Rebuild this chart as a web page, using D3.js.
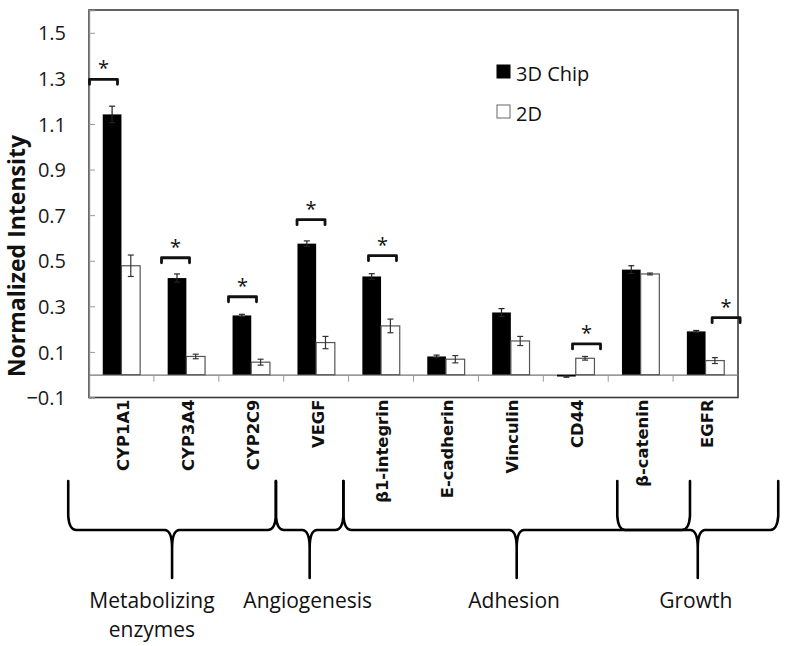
<!DOCTYPE html>
<html>
<head>
<meta charset="utf-8">
<script src="https://cdn.jsdelivr.net/npm/d3@7"></script>
<style>
  html, body { margin: 0; padding: 0; background: #fff; }
  svg { display: block; }
</style>
</head>
<body>
<svg id="chart" width="800" height="646"></svg>
<script>
// ---------- data ----------
const categories = ["CYP1A1", "CYP3A4", "CYP2C9", "VEGF", "β1-integrin", "E-cadherin", "Vinculin", "CD44", "β-catenin", "EGFR"];
const chip3D    = [1.142, 0.424, 0.260, 0.575, 0.431, 0.080, 0.273, -0.008, 0.461, 0.190];
const chip3DErr = [0.036, 0.018, 0.005, 0.012, 0.012, 0.006, 0.017, 0.003, 0.017, 0.004];
const flat2D    = [0.478, 0.080, 0.055, 0.141, 0.214, 0.068, 0.148, 0.072, 0.442, 0.062];
const flat2DErr = [0.047, 0.010, 0.013, 0.027, 0.030, 0.016, 0.020, 0.008, 0.004, 0.013];
const seriesNames = ["3D Chip", "2D"];
const yTicks = [-0.1, 0.1, 0.3, 0.5, 0.7, 0.9, 1.1, 1.3, 1.5];
const yDomain = [-0.1, 1.6];
const yTitle = "Normalized Intensity";

// significance brackets: category, bracket level (y value), centre in category-index units
const sigCats   = ["CYP1A1", "CYP3A4", "CYP2C9", "VEGF", "β1-integrin", "CD44", "EGFR"];
const sigLevels = [1.296, 0.513, 0.342, 0.680, 0.522, 0.135, 0.250];
const sigCentre = [0.223, 1.333, 2.365, 3.421, 4.522, 7.666, 9.817];

// functional groups (braces below the axis), spans in category-index units
const groupLabels = [["Metabolizing", "enzymes"], ["Angiogenesis"], ["Adhesion"], ["Growth"]];
const groupSpans  = [[-0.32, 2.88], [2.88, 3.92], [3.92, 9.26], [8.14, 10.62]];
const groupLabelAt = [0.97, 3.37, 6.55, 9.35];

// ---------- layout ----------
const plot = { left: 89, right: 738, top: 10, bottom: 397.5 };
const svg = d3.select("#chart");
svg.append("rect").attr("width", 800).attr("height", 646).attr("fill", "#fff");

const x = d3.scaleBand().domain(categories).range([plot.left, plot.right]).padding(0);
const xi = d3.scaleLinear().domain([0, categories.length]).range([plot.left, plot.right]);
const y = d3.scaleLinear().domain(yDomain).range([plot.bottom, plot.top]);
const barW = x.bandwidth() * 0.288;

// plot frame
svg.append("rect")
  .attr("x", plot.left).attr("y", plot.top)
  .attr("width", plot.right - plot.left).attr("height", plot.bottom - plot.top)
  .attr("fill", "none").attr("stroke", "#3a3a3a").attr("stroke-width", 1.6);

// y axis
const yAxis = d3.axisLeft(y).tickValues(yTicks).tickSize(-6).tickPadding(0)
  .tickFormat(d => d3.format(".1f")(d));
const gy = svg.append("g").attr("transform", `translate(${plot.left},0)`).call(yAxis);
gy.select(".domain").attr("stroke", "#8a8a8a").attr("stroke-width", 1.4);
gy.selectAll(".tick line").attr("stroke", "#9a9a9a");
gy.selectAll(".tick text")
  .attr("x", -23).attr("dy", "0.36em")
  .attr("font-family", "'Open Sans', sans-serif").attr("font-size", 20).attr("fill", "#1a1a1a");

// y title
svg.append("text")
  .attr("transform", `translate(25,256) rotate(-90)`)
  .attr("text-anchor", "middle")
  .attr("font-family", "'Open Sans', sans-serif").attr("font-weight", 700)
  .attr("font-size", 23).attr("fill", "#111")
  .text(yTitle);

// category axis at zero
const xAxis = d3.axisBottom(x).tickSize(0).tickFormat("");
const gx = svg.append("g").attr("transform", `translate(0,${y(0)})`).call(xAxis);
gx.select(".domain").attr("stroke", "#777").attr("stroke-width", 1.3);
svg.append("g").selectAll("line")
  .data(d3.range(1, categories.length))
  .join("line")
  .attr("x1", d => xi(d)).attr("x2", d => xi(d))
  .attr("y1", y(0)).attr("y2", y(0) + 7)
  .attr("stroke", "#999").attr("stroke-width", 1);

// bars
const rows = categories.map((c, i) => ({ c, a: chip3D[i], ae: chip3DErr[i], b: flat2D[i], be: flat2DErr[i] }));
const cx = c => x(c) + x.bandwidth() / 2;

const gBars = svg.append("g");
gBars.selectAll("rect.a").data(rows).join("rect").attr("class", "a")
  .attr("x", d => cx(d.c) - barW).attr("width", barW)
  .attr("y", d => y(Math.max(0, d.a))).attr("height", d => Math.abs(y(d.a) - y(0)))
  .attr("fill", "#000");
gBars.selectAll("rect.b").data(rows).join("rect").attr("class", "b")
  .attr("x", d => cx(d.c)).attr("width", barW)
  .attr("y", d => y(Math.max(0, d.b))).attr("height", d => Math.abs(y(d.b) - y(0)))
  .attr("fill", "#fff").attr("stroke", "#555").attr("stroke-width", 1.2);

// error bars
function errBars(cls, val, err, off, col) {
  const g = svg.append("g").attr("stroke", col).attr("stroke-width", 1.2);
  rows.forEach(d => {
    const xc = cx(d.c) + off;
    const v = d[val], e = d[err];
    g.append("line").attr("x1", xc).attr("x2", xc).attr("y1", y(v + e)).attr("y2", y(v - e));
    g.append("line").attr("x1", xc - 3).attr("x2", xc + 3).attr("y1", y(v + e)).attr("y2", y(v + e));
    g.append("line").attr("x1", xc - 3).attr("x2", xc + 3).attr("y1", y(v - e)).attr("y2", y(v - e));
  });
}
errBars("a", "a", "ae", -barW / 2, "#222");
errBars("b", "b", "be", barW / 2, "#333");

// significance brackets
const gSig = svg.append("g");
sigCats.forEach((c, i) => {
  const xc = xi(sigCentre[i]);
  const yy = y(sigLevels[i]);
  const hw = 14;
  gSig.append("path")
    .attr("d", `M${xc - hw},${yy + 5} L${xc - hw},${yy} L${xc + hw},${yy} L${xc + hw},${yy + 5}`)
    .attr("fill", "none").attr("stroke", "#111").attr("stroke-width", 2.8)
    .attr("stroke-linejoin", "round").attr("stroke-linecap", "round");
  gSig.append("text")
    .attr("x", xc).attr("y", yy - 4)
    .attr("text-anchor", "middle")
    .attr("font-family", "'Open Sans', sans-serif").attr("font-size", 20).attr("fill", "#111")
    .text("*");
});

// legend
const legend = svg.append("g").attr("transform", "translate(497,65)");
seriesNames.forEach((s, i) => {
  const gy2 = i * 40;
  legend.append("rect").attr("x", 0).attr("y", gy2).attr("width", 13).attr("height", 13)
    .attr("fill", i === 0 ? "#000" : "#fff")
    .attr("stroke", i === 0 ? "#000" : "#666").attr("stroke-width", 1);
  legend.append("text").attr("x", 19).attr("y", gy2 + 16)
    .attr("font-family", "'Open Sans', sans-serif").attr("font-size", 20).attr("fill", "#111")
    .text(s);
});

// category labels (rotated)
svg.append("g").selectAll("text").data(categories).join("text")
  .attr("transform", d => `translate(${cx(d) + 1.5},${plot.bottom + 2}) rotate(-90)`)
  .attr("text-anchor", "end").attr("dy", "0.36em")
  .attr("font-family", "'DejaVu Sans', sans-serif").attr("font-weight", 700)
  .attr("font-size", 16.4).attr("fill", "#111")
  .text(d => d);

// braces
const braceH = 530, braceTop = 481, tipBottom = 578;
const gBr = svg.append("g").attr("fill", "none").attr("stroke", "#000").attr("stroke-width", 2.6)
  .attr("stroke-linecap", "round").attr("stroke-linejoin", "round");
groupSpans.forEach((sp, i) => {
  const x0 = xi(sp[0]), x1 = xi(sp[1]);
  const tip = (x0 + x1) / 2;
  const h = braceH, t = braceTop;
  const p = d3.path();
  p.moveTo(x0, t);
  p.lineTo(x0, h - 14);
  p.quadraticCurveTo(x0 + 1, h, x0 + 8, h);
  p.lineTo(tip - 7, h);
  p.quadraticCurveTo(tip, h + 1, tip, h + 18);
  p.lineTo(tip, tipBottom);
  p.moveTo(tip, h + 18);
  p.quadraticCurveTo(tip, h + 1, tip + 7, h);
  p.lineTo(x1 - 8, h);
  p.quadraticCurveTo(x1 - 1, h, x1, h - 14);
  p.lineTo(x1, t);
  gBr.append("path").attr("d", p.toString());

  const lines = groupLabels[i];
  const lx = xi(groupLabelAt[i]);
  lines.forEach((ln, k) => {
    svg.append("text")
      .attr("x", lx).attr("y", 608 + k * 29)
      .attr("text-anchor", "middle")
      .attr("font-family", "'Open Sans', sans-serif").attr("font-size", 21).attr("fill", "#111")
      .text(ln);
  });
});
</script>
</body>
</html>
